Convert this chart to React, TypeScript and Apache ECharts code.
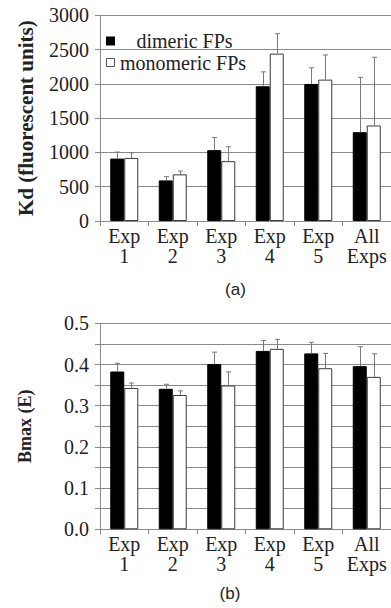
import React, { useEffect, useRef } from "react";
import * as echarts from "echarts";

const categories = ["Exp\n1", "Exp\n2", "Exp\n3", "Exp\n4", "Exp\n5", "All\nExps"];

const kdDimeric = [910, 592, 1033, 1965, 1999, 1295];
const kdDimericErr = [95, 55, 185, 210, 235, 800];
const kdMonomeric = [920, 680, 873, 2441, 2062, 1393];
const kdMonomericErr = [75, 48, 210, 290, 360, 995];

const bmaxDimeric = [0.383, 0.341, 0.401, 0.433, 0.427, 0.396];
const bmaxDimericErr = [0.02, 0.011, 0.029, 0.025, 0.027, 0.047];
const bmaxMonomeric = [0.343, 0.326, 0.349, 0.438, 0.391, 0.37];
const bmaxMonomericErr = [0.012, 0.01, 0.033, 0.023, 0.036, 0.056];

const legendNames = ["dimeric FPs", "monomeric FPs"];
const kdTicks = { min: 0, max: 3000, interval: 500 };
const bmaxTicks = { min: 0, max: 0.5, interval: 0.05 };

const SERIF = "'Liberation Serif', 'DejaVu Serif', serif";
const SANS = "'Liberation Sans', Arial, sans-serif";
const GRID_COLOR = "#8a8a8a";
const ERR_COLOR = "#7a7a7a";
const BAR_W = 14;

function errSeries(vals: number[], errs: number[], axis: number, offset: number) {
  return {
    type: "custom",
    xAxisIndex: axis,
    yAxisIndex: axis,
    z: 5,
    silent: true,
    encode: { x: 0, y: 1 },
    data: vals.map((v, i) => [i, v, errs[i]]),
    renderItem: (params: any, api: any) => {
      const i = api.value(0);
      const v = api.value(1);
      const e = api.value(2);
      const p0 = api.coord([i, v]);
      const p1 = api.coord([i, v + e]);
      const x = Math.round(p0[0] + offset) + 0.5;
      const style = { stroke: ERR_COLOR, lineWidth: 1 };
      return {
        type: "group",
        children: [
          { type: "line", shape: { x1: x, y1: p0[1], x2: x, y2: p1[1] }, style },
          { type: "line", shape: { x1: x - 2.5, y1: p1[1], x2: x + 2.5, y2: p1[1] }, style },
        ],
      };
    },
  };
}

function barSeries(name: string, vals: number[], axis: number, dark: boolean) {
  return {
    name,
    type: "bar",
    xAxisIndex: axis,
    yAxisIndex: axis,
    barWidth: BAR_W,
    barGap: "0%",
    z: 3,
    data: vals,
    itemStyle: dark
      ? { color: "#000", borderColor: "#000", borderWidth: 1 }
      : { color: "#fff", borderColor: "#3a3a3a", borderWidth: 1 },
  };
}

function xAxisDef(gridIndex: number) {
  return {
    type: "category",
    gridIndex,
    data: categories,
    boundaryGap: true,
    axisLine: { lineStyle: { color: GRID_COLOR, width: 1 } },
    axisTick: { show: true, length: 5, lineStyle: { color: GRID_COLOR } },
    axisLabel: {
      color: "#222",
      fontFamily: SERIF,
      fontSize: 20,
      lineHeight: 20,
      margin: 5,
      interval: 0,
    },
  };
}

function yAxisDef(gridIndex: number, ticks: any, name: string, nameSize: number, gap: number, fmt: (v: number) => string) {
  return {
    type: "value",
    gridIndex,
    min: ticks.min,
    max: ticks.max,
    interval: ticks.interval,
    name,
    nameLocation: "middle",
    nameGap: gap,
    nameTextStyle: { fontFamily: SERIF, fontSize: nameSize, fontWeight: "bold", color: "#222" },
    axisLine: { show: true, lineStyle: { color: GRID_COLOR, width: 1 } },
    axisTick: { show: true, length: 5, lineStyle: { color: GRID_COLOR } },
    splitLine: { show: true, lineStyle: { color: GRID_COLOR, width: 1 } },
    axisLabel: {
      color: "#222",
      fontFamily: SERIF,
      fontSize: 20,
      margin: 11,
      formatter: fmt,
    },
  };
}

export default function App() {
  const ref = useRef<HTMLDivElement>(null);
  useEffect(() => {
    if (!ref.current) return;
    const chart = echarts.init(ref.current, null, { renderer: "svg" });
    chart.setOption({
      animation: false,
      backgroundColor: "#fff",
      textStyle: { fontFamily: SERIF },
      grid: [
        { left: 100, top: 15.3, width: 296, height: 205.7 },
        { left: 100, top: 323.3, width: 296, height: 206 },
      ],
      xAxis: [xAxisDef(0), xAxisDef(1)],
      yAxis: [
        yAxisDef(0, kdTicks, "Kd (fluorescent units)", 21, 64, (v: number) => String(v)),
        yAxisDef(1, bmaxTicks, "Bmax (E)", 18, 66, (v: number) =>
          Math.round(v * 100) % 10 === 0 ? v.toFixed(1) : ""
        ),
      ],
      series: [
        barSeries(legendNames[0], kdDimeric, 0, true),
        barSeries(legendNames[1], kdMonomeric, 0, false),
        errSeries(kdDimeric, kdDimericErr, 0, -BAR_W / 2),
        errSeries(kdMonomeric, kdMonomericErr, 0, BAR_W / 2),
        barSeries(legendNames[0], bmaxDimeric, 1, true),
        barSeries(legendNames[1], bmaxMonomeric, 1, false),
        errSeries(bmaxDimeric, bmaxDimericErr, 1, -BAR_W / 2),
        errSeries(bmaxMonomeric, bmaxMonomericErr, 1, BAR_W / 2),
      ],
      graphic: [
        { type: "rect", shape: { x: 106, y: 36.5, width: 9, height: 9 }, style: { fill: "#000" }, z: 10 },
        {
          type: "text",
          x: 136.5,
          y: 41,
          style: { text: legendNames[0], fontFamily: SERIF, fontSize: 20, fill: "#222", verticalAlign: "middle" },
          z: 10,
        },
        {
          type: "rect",
          shape: { x: 106.5, y: 58.5, width: 8, height: 8 },
          style: { fill: "#fff", stroke: "#555", lineWidth: 1 },
          z: 10,
        },
        {
          type: "text",
          x: 120,
          y: 62.5,
          style: { text: legendNames[1], fontFamily: SERIF, fontSize: 20, fill: "#222", verticalAlign: "middle" },
          z: 10,
        },
        {
          type: "text",
          x: 235.5,
          y: 289,
          style: { text: "(a)", fontFamily: SANS, fontSize: 17, fill: "#222", align: "center", verticalAlign: "middle" },
        },
        {
          type: "text",
          x: 230,
          y: 593,
          style: { text: "(b)", fontFamily: SANS, fontSize: 17, fill: "#222", align: "center", verticalAlign: "middle" },
        },
      ],
    });
    return () => chart.dispose();
  }, []);
  return (
    <div
      ref={ref}
      style={{ position: "fixed", left: 0, top: 0, width: 391, height: 608, background: "#fff" }}
    />
  );
}
